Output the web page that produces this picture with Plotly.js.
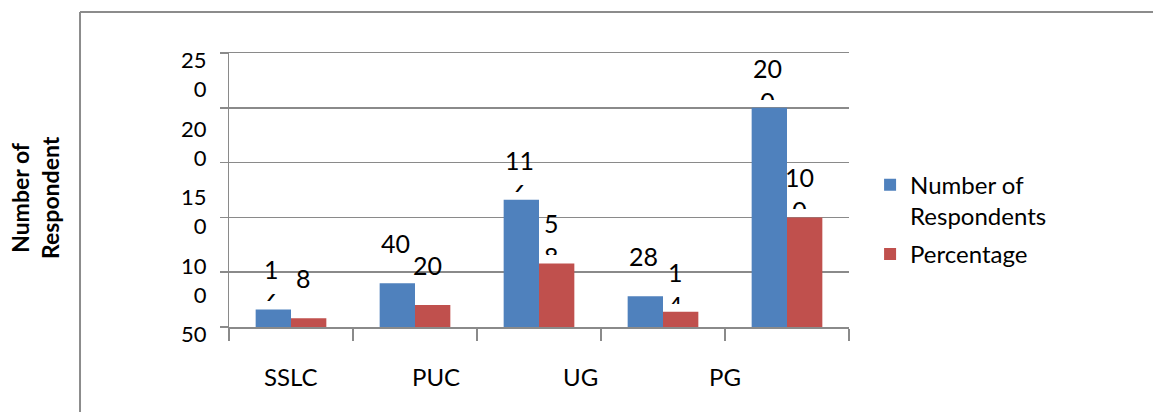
<!DOCTYPE html>
<html>
<head>
<meta charset="utf-8">
<script src="https://cdn.plot.ly/plotly-3.0.1.min.js"></script>
<style>
  html, body { margin: 0; padding: 0; background: #ffffff; }
  #chart { width: 1153px; height: 412px; }
</style>
</head>
<body>
<div id="chart"></div>
<script>
// ---- data ----
const categories = ["SSLC", "PUC", "UG", "PG", "Total"];
const respondents = [16, 40, 116, 28, 200];
const percentage = [8, 20, 58, 14, 100];
// data labels as they appear (wrapped by the narrow label boxes)
const respondentLabels = ["1<br>6", "40", "11<br>6", "28", "20<br>0"];
const percentageLabels = ["8", "20", "5<br>8", "1<br>4", "10<br>0"];
// category labels shown under the axis
const xLabels = ["SSLC", "PUC", "UG", "PG"];
// y tick values and their (wrapped) labels
const yTickVals = [250, 200, 150, 100, 50];
const yTickText = ["25<br>0", "20<br>0", "15<br>0", "10<br>0", "50"];
const seriesNames = ["Number of<br>Respondents", "Percentage"];

const FONT = "Lato, 'Open Sans', sans-serif";
const BLUE = "#4F81BD";
const RED = "#C0504D";
const GRID = "#8a8a8a";

const traces = [
  { type: "bar", name: seriesNames[0], x: categories, y: respondents, legendgroup: "g1",
    marker: { color: BLUE }, hoverinfo: "none" },
  { type: "bar", name: seriesNames[1], x: categories, y: percentage, legendgroup: "g2",
    marker: { color: RED }, hoverinfo: "none" }
];

const annotations = [];
// data labels above bars
function addLabels(values, labels, shift) {
  values.forEach((v, i) => {
    annotations.push({
      x: categories[i], y: v, xref: "x", yref: "y",
      text: labels[i], showarrow: false,
      xanchor: "center", yanchor: "bottom",
      xshift: shift, yshift: 6,
      height: 47, valign: "top",
      font: { family: FONT, size: 25, color: "#000" }
    });
  });
}
addLabels(respondents, respondentLabels, -20);
addLabels(percentage, percentageLabels, 12);

// y tick labels spread over the axis span
const yMax = 250, yMin = 0;
yTickText.forEach((t, i) => {
  annotations.push({
    x: 0, xref: "paper", xanchor: "right", xshift: -20,
    y: yMax - i * (yMax - yMin) / (yTickText.length - 1), yref: "y", yanchor: "top",
    yshift: 9,
    text: t, align: "right", showarrow: false,
    font: { family: FONT, size: 22, color: "#000" }
  });
});

// category labels under the axis
xLabels.forEach((t, i) => {
  annotations.push({
    x: i * (categories.length - 1.5) / (xLabels.length - 1), xref: "x",
    y: -0.182, yref: "paper", yanchor: "middle", xanchor: "center",
    text: t, showarrow: false,
    font: { family: FONT, size: 24, color: "#000" }
  });
});

// y axis title
annotations.push({
  x: -0.313, xref: "paper", y: 0.474, yref: "paper",
  text: "<b>Number of<br>Respondent</b>", textangle: -90, showarrow: false,
  xanchor: "center", yanchor: "middle",
  font: { family: FONT, size: 23, color: "#000" }
});

const layout = {
  width: 1153, height: 412,
  margin: { l: 229, r: 304, t: 53, b: 85 },
  paper_bgcolor: "#ffffff", plot_bgcolor: "#ffffff",
  barmode: "group", bargap: 0.43, bargroupgap: 0,
  showlegend: true,
  legend: {
    x: 1.034, xanchor: "left", y: 0.6, yanchor: "top",
    font: { family: FONT, size: 24, color: "#000" },
    valign: "top", tracegroupgap: 4, itemwidth: 30
  },
  xaxis: {
    type: "category", showticklabels: false,
    tickson: "boundaries", ticks: "outside", ticklen: 12, tickcolor: GRID, tickwidth: 1.5,
    showline: true, mirror: true, linecolor: GRID, linewidth: 1.5, showgrid: false, zeroline: false,
    fixedrange: true
  },
  yaxis: {
    range: [0, 250], tickvals: [0].concat(yTickVals), showticklabels: false,
    ticks: "outside", ticklen: 8, tickcolor: GRID, tickwidth: 1.5,
    showline: true, linecolor: GRID, linewidth: 1.5,
    showgrid: true, gridcolor: GRID, gridwidth: 1.5, zeroline: false,
    fixedrange: true
  },
  annotations: annotations,
  shapes: [
    { type: "line", xref: "paper", yref: "paper", x0: -0.2403, x1: 1.5, y0: 1.1496, y1: 1.1496,
      line: { color: "#8c8c8c", width: 2 } },
    { type: "line", xref: "paper", yref: "paper", x0: -0.2403, x1: -0.2403, y0: 1.1496, y1: -0.4,
      line: { color: "#8c8c8c", width: 2 } }
  ]
};

Plotly.newPlot("chart", traces, layout, { displayModeBar: false, staticPlot: true });
</script>
</body>
</html>
